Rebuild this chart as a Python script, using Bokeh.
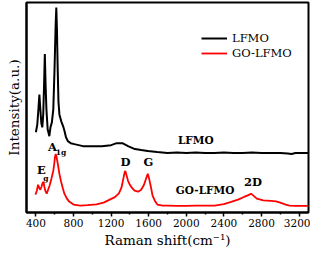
from bokeh.plotting import figure
from bokeh.models import FixedTicker, Legend, LegendItem, Range1d
from bokeh.core.properties import value
from bokeh.embed import file_html
from bokeh.resources import INLINE

# ---- data ----
lfmo_shift = [400, 415, 428, 437, 446, 458, 468, 478, 487, 495, 503, 512, 525, 543,
              555, 570, 585, 598, 610, 617, 624, 632, 640, 650, 670, 690, 705, 720,
              740, 770, 810, 900, 980, 1100, 1200, 1260, 1320, 1380, 1453, 1520,
              1590, 1690, 1800, 1900, 2000, 2100, 2200, 2300, 2400, 2500, 2600,
              2700, 2800, 2900, 3000, 3080, 3120, 3160, 3220, 3300]
lfmo_int = [87, 95, 112, 125, 112, 96, 92, 105, 135, 166, 135, 110, 90, 83,
            92, 97, 110, 150, 195, 213, 190, 150, 118, 105, 98, 93, 88, 82,
            78, 76, 75, 73, 73, 73, 74, 76, 76, 73, 70, 69,
            68, 67, 66, 66.5, 66, 66.5, 66, 66, 66.5, 66, 66,
            66.5, 66, 66, 66, 65.5, 65, 66, 66, 66]

go_shift = [395, 410, 423, 435, 447, 460, 472, 481, 490, 500, 515, 530, 545, 565,
            585, 595, 603, 611, 620, 635, 650, 668, 685, 703, 730, 754, 800, 873,
            950, 1044, 1120, 1180, 1240, 1283, 1310, 1330, 1345, 1351, 1360, 1380,
            1400, 1420, 1450, 1487, 1520, 1550, 1575, 1590, 1605, 1625, 1641, 1670,
            1692, 1750, 1800, 1900, 2000, 2100, 2200, 2303, 2400, 2477, 2550, 2613,
            2660, 2689, 2720, 2750, 2818, 2900, 2955, 3000, 3057, 3100, 3160, 3300]
go_int = [24, 28, 34, 31, 29, 32, 36, 37, 32, 28, 25, 29, 33, 40,
          48, 55, 62, 65, 62, 54, 45, 37, 31, 25, 20, 17, 14, 13,
          13.5, 14.3, 16, 18.7, 21.5, 25.3, 31, 40, 47, 48, 45, 38,
          34, 31, 28, 27, 29, 34, 41, 45, 40, 31, 23, 17,
          14, 13, 13, 12.7, 12.7, 13, 13, 13, 14.5, 16.7, 19, 21.7,
          23.5, 25, 22.5, 20, 18.3, 17.8, 17.3, 16, 14, 13, 12.7, 12.7]

x_ticks = [400, 800, 1200, 1600, 2000, 2400, 2800, 3200]
x_minor = [600, 1000, 1400, 1800, 2200, 2600, 3000]

peak_names = ["E", "A", "D", "G", "2D"]
peak_x = [459, 576, 1354, 1597, 2710]
peak_y = [48.5, 72.5, 57.3, 56.7, 36.7]
sub_names = ["g", "1g"]
sub_x = [507, 668]
sub_y = [40, 67]
series_names = ["LFMO", "GO-LFMO"]
series_x = [2101, 2200]
series_y = [79.3, 28.3]

SERIF = "DejaVu Serif"

p = figure(width=310, height=250, output_backend="svg", toolbar_location=None,
           x_range=Range1d(300, 3300), y_range=Range1d(6, 218),
           min_border_left=26, min_border_right=2, min_border_top=2, min_border_bottom=36)
p.background_fill_color = "white"
p.border_fill_color = "white"
p.grid.visible = False
p.outline_line_color = "black"
p.outline_line_width = 2

r1 = p.line(lfmo_shift, lfmo_int, line_color="black", line_width=2)
r2 = p.line(go_shift, go_int, line_color="#ff0000", line_width=1.8)

# x axis
xa = p.xaxis[0]
xa.ticker = FixedTicker(ticks=x_ticks, minor_ticks=x_minor)
xa.axis_line_width = 2
xa.major_tick_in = 0
xa.major_tick_out = 4
xa.minor_tick_in = 0
xa.minor_tick_out = 2
xa.major_tick_line_width = 1.5
xa.minor_tick_line_width = 1.5
xa.major_label_text_font = SERIF
xa.major_label_text_font_size = "10.5px"
xa.major_label_text_color = "black"
xa.major_label_standoff = 2
xa.axis_label = "Raman shift(cm\u207b\u00b9)"
xa.axis_label_text_font = SERIF
xa.axis_label_text_font_size = "13.5px"
xa.axis_label_text_font_style = "normal"
xa.axis_label_text_color = "black"
xa.axis_label_standoff = 2

# y axis (no ticks, no tick labels)
ya = p.yaxis[0]
ya.ticker = FixedTicker(ticks=[], minor_ticks=[])
ya.axis_line_width = 2
ya.major_tick_line_color = None
ya.minor_tick_line_color = None
ya.major_label_standoff = 0
ya.axis_label = "Intensity(a.u.)"
ya.axis_label_text_font = SERIF
ya.axis_label_text_font_size = "13.5px"
ya.axis_label_text_font_style = "normal"
ya.axis_label_text_color = "black"
ya.axis_label_standoff = 5

# annotations
p.text(peak_x, peak_y, text=peak_names, text_font=value(SERIF), text_font_style="bold",
       text_font_size="11.5px", text_align="center", text_baseline="middle", text_color="black")
p.text(sub_x, sub_y, text=sub_names, text_font=value(SERIF), text_font_style="bold",
       text_font_size="7.5px", text_align="center", text_baseline="middle", text_color="black")
p.text(series_x, series_y, text=series_names, text_font=value(SERIF), text_font_style="bold",
       text_font_size="10.5px", text_align="center", text_baseline="middle", text_color="black")

legend = Legend(items=[LegendItem(label="LFMO", renderers=[r1]),
                       LegendItem(label="GO-LFMO", renderers=[r2])],
                location=(175, 152), margin=0, padding=0, spacing=1, glyph_width=26,
                glyph_height=14, label_height=14, label_standoff=5, border_line_color=None,
                background_fill_alpha=0, label_text_font=SERIF,
                label_text_font_size="11.5px", label_text_color="black")
p.add_layout(legend)

open("out.html", "w").write(file_html(p, INLINE))
